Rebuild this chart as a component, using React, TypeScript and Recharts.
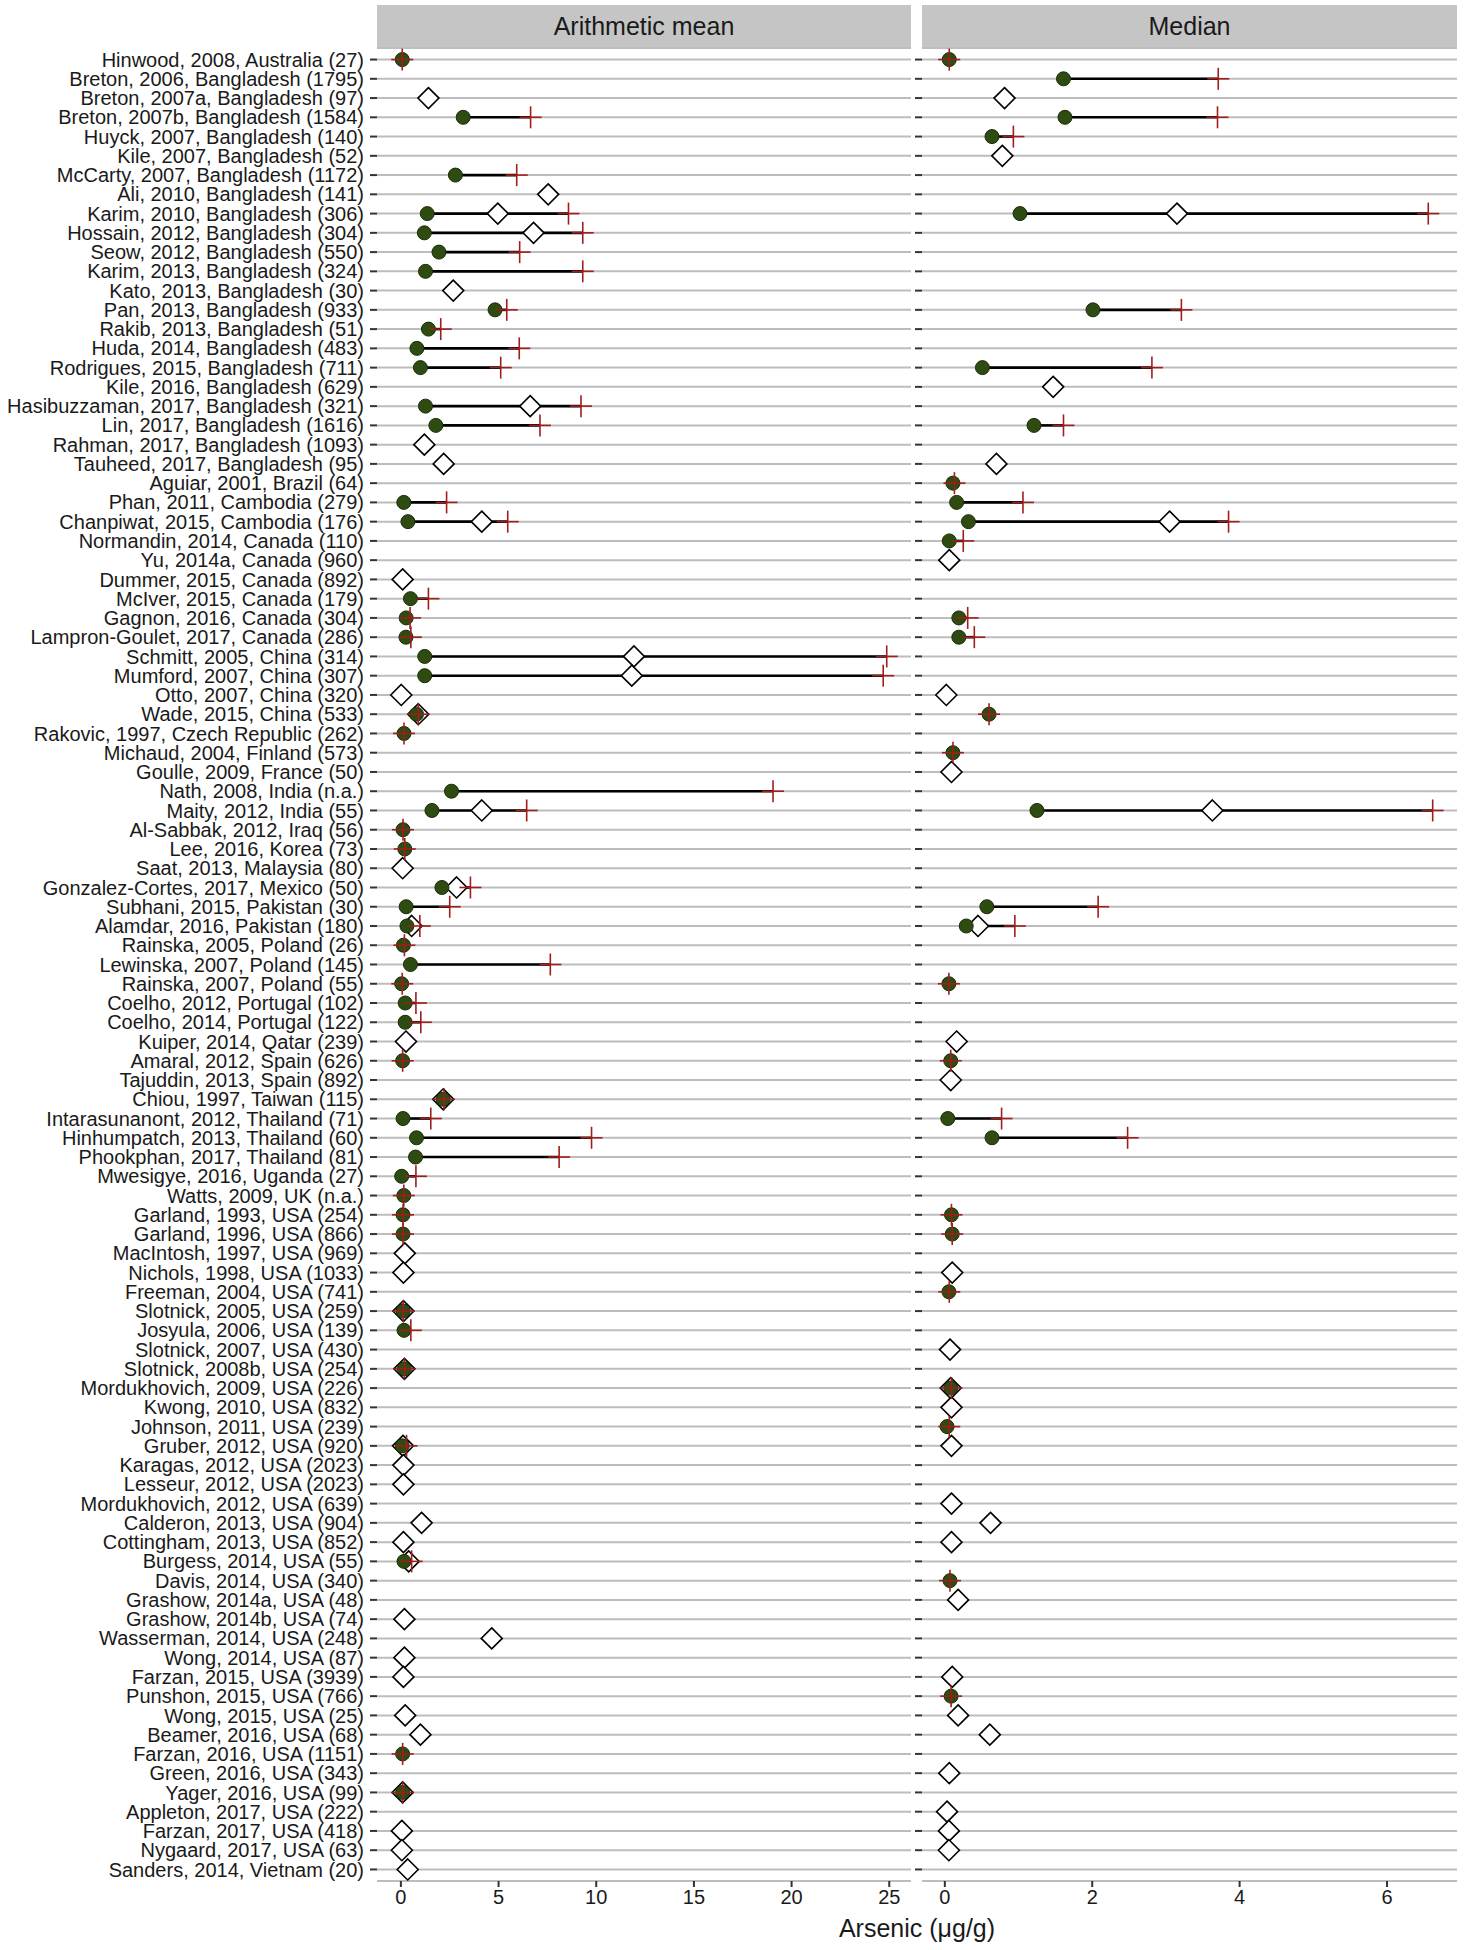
import React from 'react'
import { ScatterChart, Scatter, XAxis, YAxis, CartesianGrid, ErrorBar } from 'recharts'

const studies = [
  'Hinwood, 2008, Australia (27)', 'Breton, 2006, Bangladesh (1795)', 'Breton, 2007a, Bangladesh (97)',
  'Breton, 2007b, Bangladesh (1584)', 'Huyck, 2007, Bangladesh (140)', 'Kile, 2007, Bangladesh (52)',
  'McCarty, 2007, Bangladesh (1172)', 'Ali, 2010, Bangladesh (141)', 'Karim, 2010, Bangladesh (306)',
  'Hossain, 2012, Bangladesh (304)', 'Seow, 2012, Bangladesh (550)', 'Karim, 2013, Bangladesh (324)',
  'Kato, 2013, Bangladesh (30)', 'Pan, 2013, Bangladesh (933)', 'Rakib, 2013, Bangladesh (51)',
  'Huda, 2014, Bangladesh (483)', 'Rodrigues, 2015, Bangladesh (711)', 'Kile, 2016, Bangladesh (629)',
  'Hasibuzzaman, 2017, Bangladesh (321)', 'Lin, 2017, Bangladesh (1616)', 'Rahman, 2017, Bangladesh (1093)',
  'Tauheed, 2017, Bangladesh (95)', 'Aguiar, 2001, Brazil (64)', 'Phan, 2011, Cambodia (279)',
  'Chanpiwat, 2015, Cambodia (176)', 'Normandin, 2014, Canada (110)', 'Yu, 2014a, Canada (960)',
  'Dummer, 2015, Canada (892)', 'McIver, 2015, Canada (179)', 'Gagnon, 2016, Canada (304)',
  'Lampron-Goulet, 2017, Canada (286)', 'Schmitt, 2005, China (314)', 'Mumford, 2007, China (307)',
  'Otto, 2007, China (320)', 'Wade, 2015, China (533)', 'Rakovic, 1997, Czech Republic (262)',
  'Michaud, 2004, Finland (573)', 'Goulle, 2009, France (50)', 'Nath, 2008, India (n.a.)',
  'Maity, 2012, India (55)', 'Al-Sabbak, 2012, Iraq (56)', 'Lee, 2016, Korea (73)',
  'Saat, 2013, Malaysia (80)', 'Gonzalez-Cortes, 2017, Mexico (50)', 'Subhani, 2015, Pakistan (30)',
  'Alamdar, 2016, Pakistan (180)', 'Rainska, 2005, Poland (26)', 'Lewinska, 2007, Poland (145)',
  'Rainska, 2007, Poland (55)', 'Coelho, 2012, Portugal (102)', 'Coelho, 2014, Portugal (122)',
  'Kuiper, 2014, Qatar (239)', 'Amaral, 2012, Spain (626)', 'Tajuddin, 2013, Spain (892)',
  'Chiou, 1997, Taiwan (115)', 'Intarasunanont, 2012, Thailand (71)', 'Hinhumpatch, 2013, Thailand (60)',
  'Phookphan, 2017, Thailand (81)', 'Mwesigye, 2016, Uganda (27)', 'Watts, 2009, UK (n.a.)',
  'Garland, 1993, USA (254)', 'Garland, 1996, USA (866)', 'MacIntosh, 1997, USA (969)',
  'Nichols, 1998, USA (1033)', 'Freeman, 2004, USA (741)', 'Slotnick, 2005, USA (259)',
  'Josyula, 2006, USA (139)', 'Slotnick, 2007, USA (430)', 'Slotnick, 2008b, USA (254)',
  'Mordukhovich, 2009, USA (226)', 'Kwong, 2010, USA (832)', 'Johnson, 2011, USA (239)',
  'Gruber, 2012, USA (920)', 'Karagas, 2012, USA (2023)', 'Lesseur, 2012, USA (2023)',
  'Mordukhovich, 2012, USA (639)', 'Calderon, 2013, USA (904)', 'Cottingham, 2013, USA (852)',
  'Burgess, 2014, USA (55)', 'Davis, 2014, USA (340)', 'Grashow, 2014a, USA (48)',
  'Grashow, 2014b, USA (74)', 'Wasserman, 2014, USA (248)', 'Wong, 2014, USA (87)',
  'Farzan, 2015, USA (3939)', 'Punshon, 2015, USA (766)', 'Wong, 2015, USA (25)',
  'Beamer, 2016, USA (68)', 'Farzan, 2016, USA (1151)', 'Green, 2016, USA (343)',
  'Yager, 2016, USA (99)', 'Appleton, 2017, USA (222)', 'Farzan, 2017, USA (418)',
  'Nygaard, 2017, USA (63)', 'Sanders, 2014, Vietnam (20)',
]

// one entry per study, null = not shown
const meanCircle = [
  0.07, null, null, 3.19, null, null, 2.79, null, 1.35, 1.2,
  1.95, 1.26, null, 4.82, 1.41, 0.82, 1.0, null, 1.26, 1.79,
  null, null, null, 0.15, 0.36, null, null, null, 0.49, 0.27,
  0.26, 1.22, 1.22, null, 0.8, 0.16, null, null, 2.59, 1.59,
  0.11, 0.2, null, 2.1, 0.27, 0.31, 0.13, 0.49, 0.04, 0.22,
  0.22, null, 0.09, null, 2.17, 0.11, 0.8, 0.75, 0.04, 0.15,
  0.11, 0.11, null, null, null, 0.12, 0.16, null, 0.18, null,
  null, null, 0.07, null, null, null, null, null, 0.16, null,
  null, null, null, null, null, null, null, null, 0.09, null,
  0.09, null, null, null, null,
]
const meanCross = [
  0.07, null, null, 6.64, null, null, 5.93, null, 8.58, 9.31,
  6.08, 9.31, null, 5.42, 2.04, 6.06, 5.11, null, 9.22, 7.12,
  null, null, null, 2.34, 5.47, null, null, null, 1.41, 0.47,
  0.51, 24.87, 24.69, null, 0.89, 0.16, null, null, 19.05, 6.44,
  0.11, 0.2, null, 3.56, 2.5, 0.97, 0.18, 7.65, 0.07, 0.77,
  1.02, null, 0.09, null, 2.2, 1.53, 9.76, 8.1, 0.77, 0.15,
  0.11, 0.11, null, null, null, 0.12, 0.51, null, 0.18, null,
  null, null, 0.29, null, null, null, null, null, 0.55, null,
  null, null, null, null, null, null, null, null, 0.09, null,
  0.09, null, null, null, null,
]
const meanDiamond = [
  null, null, 1.41, null, null, null, null, 7.54, 4.96, 6.79,
  null, null, 2.68, null, null, null, null, null, 6.62, null,
  1.2, 2.19, null, null, 4.14, null, null, 0.09, null, null,
  null, 11.93, 11.82, 0.02, 0.89, null, null, null, null, 4.14,
  null, null, 0.09, 2.85, null, 0.55, null, null, null, null,
  null, 0.26, null, null, 2.17, null, null, null, null, null,
  null, null, 0.2, 0.13, null, 0.13, null, null, 0.18, null,
  null, null, 0.11, 0.13, 0.13, null, 1.06, 0.13, 0.4, null,
  null, 0.18, 4.65, 0.18, 0.13, null, 0.22, 1.0, null, null,
  0.09, null, 0.05, 0.05, 0.35,
]

const medianCircle = [
  0.06, 1.61, null, 1.63, 0.64, null, null, null, 1.02, null,
  null, null, null, 2.01, null, null, 0.51, null, null, 1.21,
  null, null, 0.11, 0.16, 0.32, 0.06, null, null, null, 0.19,
  0.19, null, null, null, 0.6, null, 0.11, null, null, 1.25,
  null, null, null, null, 0.57, 0.29, null, null, 0.055, null,
  null, null, 0.08, null, null, 0.04, 0.64, null, null, null,
  0.09, 0.1, null, null, 0.055, null, null, null, null, 0.08,
  null, 0.03, null, null, null, null, null, null, null, 0.07,
  null, null, null, null, null, 0.085, null, null, null, null,
  null, null, null, null, null,
]
const medianCross = [
  0.06, 3.71, null, 3.7, 0.93, null, null, null, 6.56, null,
  null, null, null, 3.21, null, null, 2.81, null, null, 1.61,
  null, null, 0.13, 1.06, 3.85, 0.25, null, null, null, 0.31,
  0.4, null, null, null, 0.6, null, 0.11, null, null, 6.62,
  null, null, null, null, 2.08, 0.95, null, null, 0.055, null,
  null, null, 0.08, null, null, 0.77, 2.48, null, null, null,
  0.09, 0.1, null, null, 0.06, null, null, null, null, 0.09,
  null, 0.06, null, null, null, null, null, null, null, 0.07,
  null, null, null, null, null, 0.085, null, null, null, null,
  null, null, null, null, null,
]
const medianDiamond = [
  null, null, 0.81, null, null, 0.78, null, null, 3.15, null,
  null, null, null, null, null, null, null, 1.47, null, null,
  null, 0.7, null, null, 3.05, null, 0.06, null, null, null,
  null, null, null, 0.02, null, null, null, 0.09, null, 3.63,
  null, null, null, null, null, 0.45, null, null, null, null,
  null, 0.16, null, 0.08, null, null, null, null, null, null,
  null, null, null, 0.1, null, null, null, 0.07, null, 0.08,
  0.09, null, 0.09, null, null, 0.09, 0.62, 0.09, null, null,
  0.18, null, null, null, 0.1, null, 0.18, 0.61, null, 0.06,
  null, 0.03, 0.055, 0.055, null,
]

const meanTicks = [0, 5, 10, 15, 20, 25]
const medianTicks = [0, 2, 4, 6]

const FONT = '"Liberation Sans", Arial, Helvetica, sans-serif'
const TEXT = '#1a1a1a'
const rowTicks = studies.map((_, i) => i + 1)

type Val = number | null

const toPoints = (vals: Val[]) =>
  vals.flatMap((v, i) => (v == null ? [] : [{ x: v, y: i + 1 }]))

// cross sits at the high value, error bar reaches back to the circle
const toCrossPoints = (hi: Val[], lo: Val[]) =>
  hi.flatMap((v, i) =>
    v == null ? [] : [{ x: v, y: i + 1, err: [v - (lo[i] ?? v), 0] }]
  )

// ggplot style 5% expansion
function padded(...lists: Val[][]): [number, number] {
  const all = lists.flat().filter((v): v is number => v != null)
  const min = Math.min(...all)
  const max = Math.max(...all)
  const pad = (max - min) * 0.05
  return [min - pad, max + pad]
}

const CircleShape = (p: any) => (
  <circle cx={p.cx} cy={p.cy} r={7} fill="#2e4c12" stroke="#1a2c08" strokeWidth={1} />
)
const DiamondShape = (p: any) => {
  const s = 10.5
  return (
    <path
      d={`M${p.cx},${p.cy - s}L${p.cx + s},${p.cy}L${p.cx},${p.cy + s}L${p.cx - s},${p.cy}Z`}
      fill="#fff"
      stroke="#000"
      strokeWidth={1.6}
    />
  )
}
const CrossShape = (p: any) => (
  <g stroke="#a11c1c" strokeWidth={1.6}>
    <line x1={p.cx - 11} y1={p.cy} x2={p.cx + 11} y2={p.cy} />
    <line x1={p.cx} y1={p.cy - 11} x2={p.cx} y2={p.cy + 11} />
  </g>
)

interface PanelProps {
  circle: Val[]
  cross: Val[]
  diamond: Val[]
  ticks: number[]
  width: number
  left: number
  yWidth: number
  rightMargin: number
  showLabels: boolean
}

function Panel({ circle, cross, diamond, ticks, width, left, yWidth, rightMargin, showLabels }: PanelProps) {
  const domain = padded(circle, cross, diamond)
  return (
    <div style={{ position: 'absolute', left, top: 0 }}>
      <ScatterChart
        width={width}
        height={1950}
        margin={{ top: 48, right: rightMargin, bottom: 29, left: 0 }}
      >
        <CartesianGrid vertical={false} stroke="#bdbdbd" strokeWidth={2} />
        <XAxis
          type="number"
          dataKey="x"
          domain={domain}
          allowDataOverflow
          ticks={ticks}
          height={40}
          axisLine={false}
          tickSize={6}
          tickMargin={3}
          tickLine={{ stroke: '#333', strokeWidth: 2 }}
          tick={{ fill: TEXT, fontSize: 20, fontFamily: FONT }}
        />
        <YAxis
          type="number"
          dataKey="y"
          domain={[0.4, studies.length + 0.6]}
          allowDataOverflow
          reversed
          ticks={rowTicks}
          interval={0}
          width={yWidth}
          axisLine={false}
          tickSize={7}
          tickMargin={6}
          tickLine={{ stroke: '#333', strokeWidth: 2 }}
          tickFormatter={(v: number) => (showLabels ? studies[v - 1] : '')}
          tick={{ fill: TEXT, fontSize: 20, fontFamily: FONT }}
        />
        <Scatter data={toPoints(diamond)} shape={DiamondShape} isAnimationActive={false} />
        <Scatter data={toPoints(circle)} shape={CircleShape} isAnimationActive={false} />
        <Scatter data={toCrossPoints(cross, circle)} shape={CrossShape} isAnimationActive={false}>
          <ErrorBar dataKey="err" direction="x" width={0} stroke="#000" strokeWidth={2.6} />
        </Scatter>
      </ScatterChart>
    </div>
  )
}

const stripStyle: React.CSSProperties = {
  position: 'absolute',
  top: 5,
  height: 43,
  lineHeight: '43px',
  background: '#c5c5c5',
  color: TEXT,
  fontSize: 25,
  textAlign: 'center',
}

export default function App() {
  return (
    <div
      style={{
        position: 'absolute',
        left: 0,
        top: 0,
        width: 1466,
        height: 1950,
        background: '#fff',
        fontFamily: FONT,
        overflow: 'hidden',
      }}
    >
      <div style={{ ...stripStyle, left: 377, width: 534 }}>Arithmetic mean</div>
      <div style={{ ...stripStyle, left: 922, width: 535 }}>Median</div>
      <Panel
        circle={meanCircle}
        cross={meanCross}
        diamond={meanDiamond}
        ticks={meanTicks}
        width={911}
        left={0}
        yWidth={377}
        rightMargin={0}
        showLabels
      />
      <Panel
        circle={medianCircle}
        cross={medianCross}
        diamond={medianDiamond}
        ticks={medianTicks}
        width={555}
        left={911}
        yWidth={11}
        rightMargin={9}
        showLabels={false}
      />
      <div
        style={{
          position: 'absolute',
          left: 377,
          width: 1080,
          top: 1913,
          lineHeight: '30px',
          fontSize: 25,
          color: TEXT,
          textAlign: 'center',
        }}
      >
        Arsenic (μg/g)
      </div>
    </div>
  )
}
